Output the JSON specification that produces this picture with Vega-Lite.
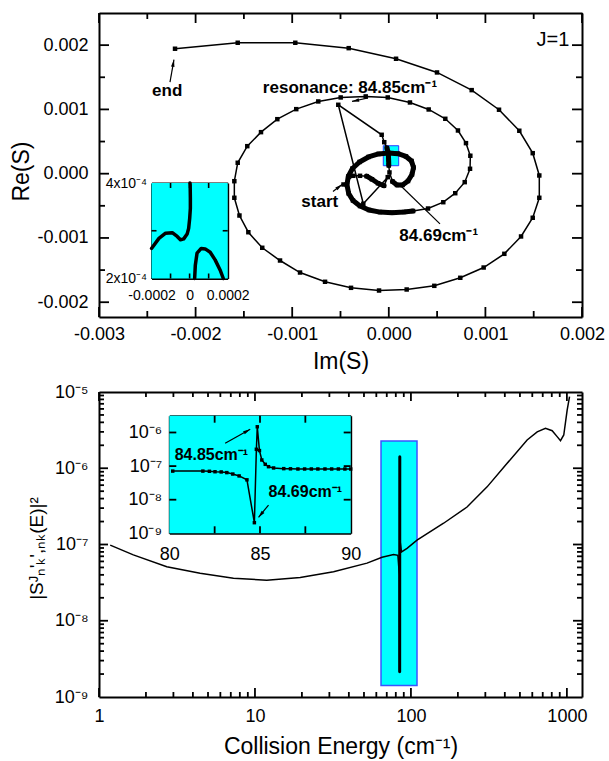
{
"$schema":"https://vega.github.io/schema/vega-lite/v6.json",
"width":609,"height":761,
"autosize":{"type":"none"},
"padding":0,
"background":"white",
"config":{"view":{"stroke":null},"font":"Liberation Sans",
 "axis":{"grid":false,"domainColor":"black","domainWidth":2,"labelColor":"black","titleColor":"black","labelFont":"Liberation Sans","titleFont":"Liberation Sans","labelFontWeight":"normal","titleFontWeight":"normal","labelOverlap":false,"labelFlush":false,"zindex":1,"labelFontSize":18,"titleFontSize":23}},
"datasets":{
 "spiral":[
  {"i":1,"im":-0.000469,"re":-0.000168,"seg":0},
  {"i":2,"im":-0.000368,"re":-0.000033,"seg":0},
  {"i":3,"im":-0.000298,"re":-0.000033,"seg":0},
  {"i":4,"im":-0.000229,"re":-0.000039,"seg":1},
  {"i":5,"im":-0.000174,"re":-0.000087,"seg":1},
  {"i":6,"im":-0.000112,"re":-0.000149,"seg":1},
  {"i":7,"im":-0.000050,"re":-0.000188,"seg":1},
  {"i":8,"im":-0.000011,"re":-0.000054,"seg":0},
  {"i":9,"im":-0.000264,"re":-0.000468,"seg":0},
  {"i":10,"im":-0.000523,"re":0.001072,"seg":0},
  {"i":11,"im":-0.0000735,"re":0.000605,"seg":0},
  {"i":12,"im":-0.000047,"re":0.000490,"seg":0},
  {"i":13,"im":-0.000019,"re":0.000400,"seg":2},
  {"i":14,"im":-0.000005,"re":0.000314,"seg":2},
  {"i":15,"im":-0.000002,"re":0.000221,"seg":2},
  {"i":16,"im":0.0,"re":0.000128,"seg":2},
  {"i":17,"im":0.000007,"re":0.000019,"seg":0},
  {"i":18,"im":0.000038,"re":-0.000121,"seg":3},
  {"i":19,"im":0.000085,"re":-0.000176,"seg":3},
  {"i":20,"im":0.000142,"re":-0.000176,"seg":3},
  {"i":21,"im":0.000199,"re":-0.000114,"seg":3},
  {"i":22,"im":0.000240,"re":-0.000012,"seg":3},
  {"i":23,"im":0.000256,"re":0.000096,"seg":3},
  {"i":24,"im":0.000235,"re":0.000198,"seg":3},
  {"i":25,"im":0.000178,"re":0.000268,"seg":3},
  {"i":26,"im":0.000095,"re":0.000311,"seg":3},
  {"i":27,"im":-0.000003,"re":0.000322,"seg":3},
  {"i":28,"im":-0.000107,"re":0.000307,"seg":3},
  {"i":29,"im":-0.000210,"re":0.000260,"seg":3},
  {"i":30,"im":-0.000303,"re":0.000182,"seg":3},
  {"i":31,"im":-0.000376,"re":0.000081,"seg":3},
  {"i":32,"im":-0.000420,"re":-0.000044,"seg":3},
  {"i":33,"im":-0.000433,"re":-0.000176,"seg":3},
  {"i":34,"im":-0.000415,"re":-0.000308,"seg":3},
  {"i":35,"im":-0.000371,"re":-0.000417,"seg":3},
  {"i":36,"im":-0.000298,"re":-0.000503,"seg":3},
  {"i":37,"im":-0.000205,"re":-0.000565,"seg":3},
  {"i":38,"im":-0.000091,"re":-0.000598,"seg":3},
  {"i":39,"im":0.000033,"re":-0.000607,"seg":3},
  {"i":40,"im":0.000157,"re":-0.000596,"seg":3},
  {"i":41,"im":0.000251,"re":-0.000581,"seg":3},
  {"i":42,"im":0.000406,"re":-0.000542,"seg":0},
  {"i":43,"im":0.000564,"re":-0.000444,"seg":0},
  {"i":44,"im":0.000688,"re":-0.000304,"seg":0},
  {"i":45,"im":0.000786,"re":-0.000132,"seg":0},
  {"i":46,"im":0.000841,"re":0.000076,"seg":0},
  {"i":47,"im":0.000844,"re":0.000279,"seg":0},
  {"i":48,"im":0.000799,"re":0.000475,"seg":0},
  {"i":49,"im":0.000716,"re":0.000672,"seg":0},
  {"i":50,"im":0.000585,"re":0.000854,"seg":0},
  {"i":51,"im":0.000413,"re":0.000999,"seg":0},
  {"i":52,"im":0.000219,"re":0.001108,"seg":0},
  {"i":53,"im":-0.000011,"re":0.001186,"seg":0},
  {"i":54,"im":-0.000239,"re":0.001202,"seg":0},
  {"i":55,"im":-0.000498,"re":0.001186,"seg":0},
  {"i":56,"im":-0.000730,"re":0.001124,"seg":0},
  {"i":57,"im":-0.000958,"re":0.001004,"seg":0},
  {"i":58,"im":-0.001154,"re":0.000848,"seg":0},
  {"i":59,"im":-0.001323,"re":0.000646,"seg":0},
  {"i":60,"im":-0.001465,"re":0.000428,"seg":0},
  {"i":61,"im":-0.001564,"re":0.000170,"seg":0},
  {"i":62,"im":-0.001599,"re":-0.000117,"seg":0},
  {"i":63,"im":-0.001599,"re":-0.000375,"seg":0},
  {"i":64,"im":-0.001546,"re":-0.000651,"seg":0},
  {"i":65,"im":-0.001454,"re":-0.000911,"seg":0},
  {"i":66,"im":-0.001310,"re":-0.001153,"seg":0},
  {"i":67,"im":-0.001126,"re":-0.001351,"seg":0},
  {"i":68,"im":-0.000919,"re":-0.001538,"seg":0},
  {"i":69,"im":-0.000660,"re":-0.001682,"seg":0},
  {"i":70,"im":-0.000391,"re":-0.001776,"seg":0},
  {"i":71,"im":-0.000101,"re":-0.001818,"seg":0},
  {"i":72,"im":0.000185,"re":-0.001802,"seg":0},
  {"i":73,"im":0.000471,"re":-0.001745,"seg":0},
  {"i":74,"im":0.000740,"re":-0.001620,"seg":0},
  {"i":75,"im":0.000982,"re":-0.001460,"seg":0},
  {"i":76,"im":0.001196,"re":-0.001247,"seg":0},
  {"i":77,"im":0.001369,"re":-0.000977,"seg":0},
  {"i":78,"im":0.001490,"re":-0.000686,"seg":0},
  {"i":79,"im":0.001558,"re":-0.000375,"seg":0},
  {"i":80,"im":0.001558,"re":-0.000028,"seg":0},
  {"i":81,"im":0.001490,"re":0.000319,"seg":0},
  {"i":82,"im":0.001351,"re":0.000668,"seg":0},
  {"i":83,"im":0.001141,"re":0.000995,"seg":0},
  {"i":84,"im":0.000858,"re":0.001300,"seg":0},
  {"i":85,"im":0.000499,"re":0.001575,"seg":0},
  {"i":86,"im":0.000075,"re":0.001788,"seg":0},
  {"i":87,"im":-0.000415,"re":0.001953,"seg":0},
  {"i":88,"im":-0.000968,"re":0.002037,"seg":0},
  {"i":89,"im":-0.001564,"re":0.002037,"seg":0},
  {"i":90,"im":-0.002213,"re":0.001944,"seg":0}
 ],
 "zoomTop":[
  {"b":1,"i":1,"im":-0.0002,"re":0.000263},
  {"b":1,"i":2,"im":-0.000161,"re":0.000284},
  {"b":1,"i":3,"im":-0.000126,"re":0.000295},
  {"b":1,"i":4,"im":-0.000091,"re":0.000296},
  {"b":1,"i":5,"im":-0.000065,"re":0.000288},
  {"b":1,"i":6,"im":-0.000048,"re":0.000281},
  {"b":1,"i":7,"im":-0.000031,"re":0.000283},
  {"b":1,"i":8,"im":-0.000013,"re":0.000293},
  {"b":1,"i":9,"im":-0.000005,"re":0.000305},
  {"b":1,"i":10,"im":0.0000005,"re":0.000326},
  {"b":1,"i":11,"im":0.000004,"re":0.000347},
  {"b":1,"i":12,"im":0.000004,"re":0.000368},
  {"b":1,"i":13,"im":0.000003,"re":0.000396},
  {"b":1,"i":14,"im":0.000002,"re":0.0004},
  {"b":2,"i":1,"im":0.0000265,"re":0.0002},
  {"b":2,"i":2,"im":0.000030,"re":0.000228},
  {"b":2,"i":3,"im":0.000039,"re":0.000253},
  {"b":2,"i":4,"im":0.000061,"re":0.000263},
  {"b":2,"i":5,"im":0.000082,"re":0.000262},
  {"b":2,"i":6,"im":0.000108,"re":0.000255},
  {"b":2,"i":7,"im":0.000134,"re":0.000239},
  {"b":2,"i":8,"im":0.000160,"re":0.000218},
  {"b":2,"i":9,"im":0.000177,"re":0.0002}
 ],
 "topLabels":[
  {"t":"end","im":-0.002294,"re":0.001279},
  {"t":"start","im":-0.000715,"re":-0.000433},
  {"t":"resonance: 84.85cm⁻¹","im":-0.000402,"re":0.001334},
  {"t":"84.69cm⁻¹","im":0.000517,"re":-0.000977}
 ],
 "topArrows":[
  {"im":-0.002265,"re":0.001424,"im2":-0.002224,"re2":0.001773},
  {"im":-0.000578,"re":-0.000277,"im2":-0.000484,"re2":-0.000168},
  {"im":-0.000215,"re":0.001178,"im2":-0.000381,"re2":0.001124},
  {"im":0.000530,"re":-0.000780,"im2":0.000126,"re2":-0.000191}
 ],
 "curve":[
  {"E":1.18,"s2":9.8e-8,"spike":0},
  {"E":1.66,"s2":7.3e-8,"spike":0},
  {"E":2.72,"s2":5.1e-8,"spike":0},
  {"E":4.45,"s2":4.2e-8,"spike":0},
  {"E":7.28,"s2":3.6e-8,"spike":0},
  {"E":11.9,"s2":3.4e-8,"spike":0},
  {"E":19.5,"s2":3.7e-8,"spike":0},
  {"E":31.9,"s2":4.4e-8,"spike":0},
  {"E":52.3,"s2":5.7e-8,"spike":0},
  {"E":65.3,"s2":6.8e-8,"spike":0},
  {"E":77.4,"s2":7.4e-8,"spike":0},
  {"E":82.5,"s2":7.2e-8,"spike":0},
  {"E":84.3,"s2":4.0e-8,"spike":0},
  {"E":84.69,"s2":2.15e-9,"spike":1},
  {"E":84.8,"s2":3.2e-7,"spike":1},
  {"E":84.85,"s2":1.42e-6,"spike":1},
  {"E":84.97,"s2":2.9e-7,"spike":0},
  {"E":85.3,"s2":1.1e-7,"spike":0},
  {"E":87,"s2":8.0e-8,"spike":0},
  {"E":94.4,"s2":8.9e-8,"spike":0},
  {"E":109.4,"s2":1.14e-7,"spike":0},
  {"E":162,"s2":1.9e-7,"spike":0},
  {"E":229,"s2":3.1e-7,"spike":0},
  {"E":308,"s2":5.7e-7,"spike":0},
  {"E":414,"s2":1.16e-6,"spike":0},
  {"E":556,"s2":2.35e-6,"spike":0},
  {"E":645,"s2":3.0e-6,"spike":0},
  {"E":729,"s2":3.34e-6,"spike":0},
  {"E":805,"s2":3.11e-6,"spike":0},
  {"E":866,"s2":2.6e-6,"spike":0},
  {"E":910,"s2":2.3e-6,"spike":0},
  {"E":955,"s2":2.73e-6,"spike":0},
  {"E":1004,"s2":5.8e-6,"spike":0},
  {"E":1040,"s2":8.7e-6,"spike":0}
 ],
 "zoomBottom":[
  {"E":80.19,"s2":7.1e-8},
  {"E":81.85,"s2":7.1e-8},
  {"E":82.21,"s2":7.0e-8},
  {"E":82.52,"s2":6.8e-8},
  {"E":82.86,"s2":6.7e-8},
  {"E":83.17,"s2":6.4e-8},
  {"E":83.5,"s2":5.8e-8},
  {"E":83.85,"s2":5.1e-8},
  {"E":84.28,"s2":3.9e-8},
  {"E":84.69,"s2":2.07e-9},
  {"E":84.8,"s2":3.16e-7},
  {"E":84.85,"s2":1.48e-6},
  {"E":84.97,"s2":2.9e-7},
  {"E":85.1,"s2":1.52e-7},
  {"E":85.29,"s2":1.13e-7},
  {"E":85.47,"s2":9.6e-8},
  {"E":85.75,"s2":8.8e-8},
  {"E":86.31,"s2":8.4e-8},
  {"E":86.68,"s2":8.3e-8},
  {"E":87.09,"s2":8.2e-8},
  {"E":87.46,"s2":8.2e-8},
  {"E":87.83,"s2":8.2e-8},
  {"E":88.19,"s2":8.2e-8},
  {"E":88.58,"s2":8.2e-8},
  {"E":88.95,"s2":8.2e-8},
  {"E":89.32,"s2":8.2e-8},
  {"E":89.68,"s2":8.2e-8},
  {"E":90.0,"s2":8.2e-8}
 ],
 "bottomLabels":[
  {"t":"84.85cm⁻¹","E":82.32,"s2":2.18e-7},
  {"t":"84.69cm⁻¹","E":87.5,"s2":1.69e-8}
 ],
 "bottomArrows":[
  {"E":83.08,"s2":4.77e-7,"E2":84.46,"s2end":1.245e-6},
  {"E":85.47,"s2":6.95e-9,"E2":84.92,"s2end":2.99e-9}
 ],
 "tmx":[{"v":-0.003,"m":1},{"v":-0.0025,"m":0},{"v":-0.002,"m":1},{"v":-0.0015,"m":0},{"v":-0.001,"m":1},{"v":-0.0005,"m":0},{"v":0,"m":1},{"v":0.0005,"m":0},{"v":0.001,"m":1},{"v":0.0015,"m":0},{"v":0.002,"m":1}],
 "tmy":[{"v":-0.002,"m":1},{"v":-0.0015,"m":0},{"v":-0.001,"m":1},{"v":-0.0005,"m":0},{"v":0,"m":1},{"v":0.0005,"m":0},{"v":0.001,"m":1},{"v":0.0015,"m":0},{"v":0.002,"m":1}],
 "bmx":[{"v":1,"m":1},{"v":2,"m":0},{"v":3,"m":0},{"v":4,"m":0},{"v":5,"m":0},{"v":6,"m":0},{"v":7,"m":0},{"v":8,"m":0},{"v":9,"m":0},
  {"v":10,"m":1},{"v":20,"m":0},{"v":30,"m":0},{"v":40,"m":0},{"v":50,"m":0},{"v":60,"m":0},{"v":70,"m":0},{"v":80,"m":0},{"v":90,"m":0},
  {"v":100,"m":1},{"v":200,"m":0},{"v":300,"m":0},{"v":400,"m":0},{"v":500,"m":0},{"v":600,"m":0},{"v":700,"m":0},{"v":800,"m":0},{"v":900,"m":0},{"v":1000,"m":1}],
 "bmy":[{"v":2e-9,"m":0},{"v":3e-9,"m":0},{"v":4e-9,"m":0},{"v":5e-9,"m":0},{"v":6e-9,"m":0},{"v":7e-9,"m":0},{"v":8e-9,"m":0},{"v":9e-9,"m":0},
  {"v":1e-8,"m":1},{"v":2e-8,"m":0},{"v":3e-8,"m":0},{"v":4e-8,"m":0},{"v":5e-8,"m":0},{"v":6e-8,"m":0},{"v":7e-8,"m":0},{"v":8e-8,"m":0},{"v":9e-8,"m":0},
  {"v":1e-7,"m":1},{"v":2e-7,"m":0},{"v":3e-7,"m":0},{"v":4e-7,"m":0},{"v":5e-7,"m":0},{"v":6e-7,"m":0},{"v":7e-7,"m":0},{"v":8e-7,"m":0},{"v":9e-7,"m":0},
  {"v":1e-6,"m":1},{"v":2e-6,"m":0},{"v":3e-6,"m":0},{"v":4e-6,"m":0},{"v":5e-6,"m":0},{"v":6e-6,"m":0},{"v":7e-6,"m":0},{"v":8e-6,"m":0},{"v":9e-6,"m":0}],
 "tix":[{"v":-0.0001},{"v":0},{"v":0.0001}],
 "tiy":[{"v":0.0003}],
 "bix":[{"v":82.5},{"v":85},{"v":87.5}],
 "biy":[{"v":1e-8},{"v":1e-7},{"v":1e-6}]
},
"layer":[
 {
  "layer":[
   {"data":{"values":[{}]},"mark":{"type":"rect","fill":"#00ffff","stroke":"#2a3cff","strokeWidth":1},
    "encoding":{"x":{"datum":-0.000057,"type":"quantitative","scale":{"domain":[-0.003,0.002],"range":[99,582],"zero":false,"nice":false},"axis":null},"x2":{"datum":0.0001025},
     "y":{"datum":0.000124,"type":"quantitative","scale":{"domain":[-0.00223,0.0025],"range":[317,13],"zero":false,"nice":false},"axis":null},"y2":{"datum":0.000435}}},
   {"data":{"name":"spiral"},"mark":{"type":"line","color":"black","strokeWidth":1.5},
    "encoding":{
     "x":{"field":"im","type":"quantitative","scale":{"domain":[-0.003,0.002],"range":[99,582],"zero":false,"nice":false},
      "axis":{"orient":"bottom","offset":-444,"values":[-0.003,-0.002,-0.001,0,0.001,0.002],"ticks":false,"domain":false,
       "labelExpr":"replace(format(datum.value,'.3f'),'−','-')",
       "labelPadding":8,"title":"Im(S)","titleY":51,"titleBaseline":"alphabetic"}},
     "y":{"field":"re","type":"quantitative","scale":{"domain":[-0.00223,0.0025],"range":[317,13],"zero":false,"nice":false},
      "axis":{"orient":"left","offset":-99,"values":[-0.002,-0.001,0,0.001,0.002],"ticks":false,"domain":false,
       "labelExpr":"replace(format(datum.value,'.3f'),'−','-')",
       "labelPadding":11,"title":"Re(S)","titleX":-71,"titleY":171,"titleBaseline":"alphabetic","titleAngle":270,"titleAlign":"center"}},
     "order":{"field":"i"}}},
   {"data":{"name":"spiral"},"transform":[{"filter":"datum.seg > 0"}],"mark":{"type":"line","color":"black","strokeWidth":5,"strokeCap":"round","strokeJoin":"round"},
    "encoding":{"x":{"field":"im","type":"quantitative","scale":{"domain":[-0.003,0.002],"range":[99,582],"zero":false,"nice":false},
      "axis":{"orient":"top","offset":-317,"values":[0],"labels":false,"ticks":false,"title":null}},
     "y":{"field":"re","type":"quantitative","scale":{"domain":[-0.00223,0.0025],"range":[317,13],"zero":false,"nice":false},
      "axis":{"orient":"right","offset":-510,"values":[0],"labels":false,"ticks":false,"title":null}},
     "detail":{"field":"seg"},"order":{"field":"i"}}},
   {"data":{"name":"spiral"},"mark":{"type":"point","shape":"square","filled":true,"color":"black","size":20,"opacity":1},
    "encoding":{
     "x":{"field":"im","type":"quantitative","scale":{"domain":[-0.003,0.002],"range":[99,582],"zero":false,"nice":false},
      "axis":{"orient":"bottom","offset":-748,"values":[0],"labels":false,"ticks":false,"title":null}},
     "y":{"field":"re","type":"quantitative","scale":{"domain":[-0.00223,0.0025],"range":[317,13],"zero":false,"nice":false},
      "axis":{"orient":"left","offset":-582,"values":[0],"labels":false,"ticks":false,"title":null}}}},
   {"data":{"name":"tmx"},"transform":[{"filter":"datum.m == 1"}],"mark":{"type":"rule","color":"black","strokeWidth":1.8,"y2Offset":-10},
    "encoding":{"x":{"field":"v","type":"quantitative","scale":{"domain":[-0.003,0.002],"range":[99,582],"zero":false,"nice":false},"axis":null},
     "y":{"datum":-0.00223,"type":"quantitative","scale":{"domain":[-0.00223,0.0025],"range":[317,13],"zero":false,"nice":false},"axis":null},"y2":{"datum":-0.00223}}},
   {"data":{"name":"tmx"},"transform":[{"filter":"datum.m == 0"}],"mark":{"type":"rule","color":"black","strokeWidth":1.8,"y2Offset":-6},
    "encoding":{"x":{"field":"v","type":"quantitative","scale":{"domain":[-0.003,0.002],"range":[99,582],"zero":false,"nice":false},"axis":null},
     "y":{"datum":-0.00223,"type":"quantitative","scale":{"domain":[-0.00223,0.0025],"range":[317,13],"zero":false,"nice":false},"axis":null},"y2":{"datum":-0.00223}}},
   {"data":{"name":"tmx"},"transform":[{"filter":"datum.m == 1"}],"mark":{"type":"rule","color":"black","strokeWidth":1.8,"y2Offset":10},
    "encoding":{"x":{"field":"v","type":"quantitative","scale":{"domain":[-0.003,0.002],"range":[99,582],"zero":false,"nice":false},"axis":null},
     "y":{"datum":0.0025,"type":"quantitative","scale":{"domain":[-0.00223,0.0025],"range":[317,13],"zero":false,"nice":false},"axis":null},"y2":{"datum":0.0025}}},
   {"data":{"name":"tmx"},"transform":[{"filter":"datum.m == 0"}],"mark":{"type":"rule","color":"black","strokeWidth":1.8,"y2Offset":6},
    "encoding":{"x":{"field":"v","type":"quantitative","scale":{"domain":[-0.003,0.002],"range":[99,582],"zero":false,"nice":false},"axis":null},
     "y":{"datum":0.0025,"type":"quantitative","scale":{"domain":[-0.00223,0.0025],"range":[317,13],"zero":false,"nice":false},"axis":null},"y2":{"datum":0.0025}}},
   {"data":{"name":"tmy"},"transform":[{"filter":"datum.m == 1"}],"mark":{"type":"rule","color":"black","strokeWidth":1.8,"x2Offset":10},
    "encoding":{"y":{"field":"v","type":"quantitative","scale":{"domain":[-0.00223,0.0025],"range":[317,13],"zero":false,"nice":false},"axis":null},
     "x":{"datum":-0.003,"type":"quantitative","scale":{"domain":[-0.003,0.002],"range":[99,582],"zero":false,"nice":false},"axis":null},"x2":{"datum":-0.003}}},
   {"data":{"name":"tmy"},"transform":[{"filter":"datum.m == 0"}],"mark":{"type":"rule","color":"black","strokeWidth":1.8,"x2Offset":6},
    "encoding":{"y":{"field":"v","type":"quantitative","scale":{"domain":[-0.00223,0.0025],"range":[317,13],"zero":false,"nice":false},"axis":null},
     "x":{"datum":-0.003,"type":"quantitative","scale":{"domain":[-0.003,0.002],"range":[99,582],"zero":false,"nice":false},"axis":null},"x2":{"datum":-0.003}}},
   {"data":{"name":"tmy"},"transform":[{"filter":"datum.m == 1"}],"mark":{"type":"rule","color":"black","strokeWidth":1.8,"x2Offset":-10},
    "encoding":{"y":{"field":"v","type":"quantitative","scale":{"domain":[-0.00223,0.0025],"range":[317,13],"zero":false,"nice":false},"axis":null},
     "x":{"datum":0.002,"type":"quantitative","scale":{"domain":[-0.003,0.002],"range":[99,582],"zero":false,"nice":false},"axis":null},"x2":{"datum":0.002}}},
   {"data":{"name":"tmy"},"transform":[{"filter":"datum.m == 0"}],"mark":{"type":"rule","color":"black","strokeWidth":1.8,"x2Offset":-6},
    "encoding":{"y":{"field":"v","type":"quantitative","scale":{"domain":[-0.00223,0.0025],"range":[317,13],"zero":false,"nice":false},"axis":null},
     "x":{"datum":0.002,"type":"quantitative","scale":{"domain":[-0.003,0.002],"range":[99,582],"zero":false,"nice":false},"axis":null},"x2":{"datum":0.002}}},
   {"data":{"name":"topArrows"},"mark":{"type":"rule","color":"black","strokeWidth":1.2},
    "encoding":{"x":{"field":"im","type":"quantitative","scale":{"domain":[-0.003,0.002],"range":[99,582],"zero":false,"nice":false},"axis":null},
     "y":{"field":"re","type":"quantitative","scale":{"domain":[-0.00223,0.0025],"range":[317,13],"zero":false,"nice":false},"axis":null},
     "x2":{"field":"im2"},"y2":{"field":"re2"}}},
   {"data":{"values":[{}]},"mark":{"type":"point","shape":"M0,0L0.4,1.6L-0.4,1.6Z","size":80,"filled":true,"color":"black","opacity":1,"angle":10},
    "encoding":{"x":{"datum":-0.002224,"type":"quantitative","scale":{"domain":[-0.003,0.002],"range":[99,582],"zero":false,"nice":false},"axis":null},
     "y":{"datum":0.001773,"type":"quantitative","scale":{"domain":[-0.00223,0.0025],"range":[317,13],"zero":false,"nice":false},"axis":null}}},
   {"data":{"values":[{}]},"mark":{"type":"point","shape":"M0,0L0.4,1.6L-0.4,1.6Z","size":80,"filled":true,"color":"black","opacity":1,"angle":52},
    "encoding":{"x":{"datum":-0.000484,"type":"quantitative","scale":{"domain":[-0.003,0.002],"range":[99,582],"zero":false,"nice":false},"axis":null},
     "y":{"datum":-0.000168,"type":"quantitative","scale":{"domain":[-0.00223,0.0025],"range":[317,13],"zero":false,"nice":false},"axis":null}}},
   {"data":{"values":[{}]},"mark":{"type":"point","shape":"M0,0L0.4,1.6L-0.4,1.6Z","size":80,"filled":true,"color":"black","opacity":1,"angle":258},
    "encoding":{"x":{"datum":-0.000381,"type":"quantitative","scale":{"domain":[-0.003,0.002],"range":[99,582],"zero":false,"nice":false},"axis":null},
     "y":{"datum":0.001124,"type":"quantitative","scale":{"domain":[-0.00223,0.0025],"range":[317,13],"zero":false,"nice":false},"axis":null}}},
   {"data":{"name":"topLabels"},"mark":{"type":"text","font":"Liberation Sans","fontWeight":"bold","fontSize":17,"align":"center","baseline":"middle","color":"black"},
    "encoding":{"x":{"field":"im","type":"quantitative","scale":{"domain":[-0.003,0.002],"range":[99,582],"zero":false,"nice":false},"axis":null},
     "y":{"field":"re","type":"quantitative","scale":{"domain":[-0.00223,0.0025],"range":[317,13],"zero":false,"nice":false},"axis":null},
     "text":{"field":"t"}}},
   {"data":{"values":[{}]},"mark":{"type":"text","text":"J=1","font":"Liberation Sans","fontSize":20,"align":"center","baseline":"middle","color":"black"},
    "encoding":{"x":{"datum":0.0017,"type":"quantitative","scale":{"domain":[-0.003,0.002],"range":[99,582],"zero":false,"nice":false},"axis":null},
     "y":{"datum":0.002073,"type":"quantitative","scale":{"domain":[-0.00223,0.0025],"range":[317,13],"zero":false,"nice":false},"axis":null}}}
  ],
  "resolve":{"axis":{"x":"independent","y":"independent"}}
 },
 {
  "layer":[
   {"data":{"values":[{}]},"mark":{"type":"rect","fill":"#00ffff"},
    "encoding":{"x":{"datum":-0.0002,"type":"quantitative","scale":{"domain":[-0.0002,0.0002],"range":[151.5,227.7],"zero":false,"nice":false},
      "axis":{"orient":"top","offset":-278.5,"values":[0],"labels":false,"ticks":false,"title":null}},
     "x2":{"datum":0.0002},
     "y":{"datum":0.0002,"type":"quantitative","scale":{"domain":[0.0002,0.0004],"range":[278.5,183],"zero":false,"nice":false},
      "axis":{"orient":"right","offset":-457.5,"values":[0.0003],"labels":false,"ticks":false,"title":null}},
     "y2":{"datum":0.0004}}},
   {"data":{"name":"zoomTop"},"transform":[{"filter":"datum.b == 1"}],"mark":{"type":"line","color":"black","strokeWidth":3.5,"strokeCap":"round","strokeJoin":"round"},
    "encoding":{"x":{"field":"im","type":"quantitative","scale":{"domain":[-0.0002,0.0002],"range":[151.5,227.7],"zero":false,"nice":false},
      "axis":{"orient":"bottom","offset":-482.5,"values":[-0.0002,0,0.0002],"ticks":false,"domain":false,
       "labelExpr":"abs(datum.value)<1e-9 ? '0' : (datum.value<0 ? '-0.0002' : '0.0002')",
       "labelPadding":10,"labelFontSize":14,"title":null}},
     "y":{"field":"re","type":"quantitative","scale":{"domain":[0.0002,0.0004],"range":[278.5,183],"zero":false,"nice":false},
      "axis":{"orient":"left","offset":-151.5,"values":[0.0002,0.0004],"ticks":false,"domain":false,
       "labelExpr":"datum.value > 0.0003 ? '4x10⁻⁴' : '2x10⁻⁴'",
       "labelPadding":5,"labelFontSize":14,"title":null}},
     "order":{"field":"i"}}},
   {"data":{"name":"zoomTop"},"transform":[{"filter":"datum.b == 2"}],"mark":{"type":"line","color":"black","strokeWidth":3.5,"strokeCap":"round","strokeJoin":"round"},
    "encoding":{"x":{"field":"im","type":"quantitative","scale":{"domain":[-0.0002,0.0002],"range":[151.5,227.7],"zero":false,"nice":false},
      "axis":{"orient":"bottom","offset":-578,"values":[0],"labels":false,"ticks":false,"title":null}},
     "y":{"field":"re","type":"quantitative","scale":{"domain":[0.0002,0.0004],"range":[278.5,183],"zero":false,"nice":false},
      "axis":{"orient":"left","offset":-227.7,"values":[0.0003],"labels":false,"ticks":false,"title":null}},
     "order":{"field":"i"}}},
   {"data":{"name":"tix"},"mark":{"type":"rule","color":"black","strokeWidth":1.6,"y2Offset":-5},
    "encoding":{"x":{"field":"v","type":"quantitative","scale":{"domain":[-0.0002,0.0002],"range":[151.5,227.7],"zero":false,"nice":false},"axis":null},
     "y":{"datum":0.0002,"type":"quantitative","scale":{"domain":[0.0002,0.0004],"range":[278.5,183],"zero":false,"nice":false},"axis":null},"y2":{"datum":0.0002}}},
   {"data":{"name":"tix"},"mark":{"type":"rule","color":"black","strokeWidth":1.6,"y2Offset":5},
    "encoding":{"x":{"field":"v","type":"quantitative","scale":{"domain":[-0.0002,0.0002],"range":[151.5,227.7],"zero":false,"nice":false},"axis":null},
     "y":{"datum":0.0004,"type":"quantitative","scale":{"domain":[0.0002,0.0004],"range":[278.5,183],"zero":false,"nice":false},"axis":null},"y2":{"datum":0.0004}}},
   {"data":{"name":"tiy"},"mark":{"type":"rule","color":"black","strokeWidth":1.6,"x2Offset":5},
    "encoding":{"y":{"field":"v","type":"quantitative","scale":{"domain":[0.0002,0.0004],"range":[278.5,183],"zero":false,"nice":false},"axis":null},
     "x":{"datum":-0.0002,"type":"quantitative","scale":{"domain":[-0.0002,0.0002],"range":[151.5,227.7],"zero":false,"nice":false},"axis":null},"x2":{"datum":-0.0002}}},
   {"data":{"name":"tiy"},"mark":{"type":"rule","color":"black","strokeWidth":1.6,"x2Offset":-5},
    "encoding":{"y":{"field":"v","type":"quantitative","scale":{"domain":[0.0002,0.0004],"range":[278.5,183],"zero":false,"nice":false},"axis":null},
     "x":{"datum":0.0002,"type":"quantitative","scale":{"domain":[-0.0002,0.0002],"range":[151.5,227.7],"zero":false,"nice":false},"axis":null},"x2":{"datum":0.0002}}}
  ],
  "resolve":{"axis":{"x":"independent","y":"independent"}}
 },
 {
  "layer":[
   {"data":{"values":[{}]},"mark":{"type":"rect","fill":"#00ffff","stroke":"#3a55ff","strokeWidth":1.5},
    "encoding":{"x":{"datum":64.3,"type":"quantitative","scale":{"type":"log","domain":[1,1250],"range":[99,582],"nice":false},
      "axis":{"orient":"top","offset":-697,"values":[10],"labels":false,"ticks":false,"title":null}},
     "x2":{"datum":109.4},
     "y":{"datum":1.41e-9,"type":"quantitative","scale":{"type":"log","domain":[1e-9,1e-5],"range":[697,392],"nice":false},
      "axis":{"orient":"right","offset":-510,"values":[1e-7],"labels":false,"ticks":false,"title":null}},
     "y2":{"datum":2.28e-6}}},
   {"data":{"name":"curve"},"mark":{"type":"line","color":"black","strokeWidth":1.5},
    "encoding":{
     "x":{"field":"E","type":"quantitative","scale":{"type":"log","domain":[1,1250],"range":[99,582],"nice":false},
      "axis":{"orient":"bottom","offset":-64,"values":[1,10,100,1000],"ticks":false,"domain":false,
       "labelExpr":"format(datum.value,'d')",
       "labelPadding":10,"title":"Collision Energy (cm⁻¹)","titleY":56,"titleBaseline":"alphabetic"}},
     "y":{"field":"s2","type":"quantitative","scale":{"type":"log","domain":[1e-9,1e-5],"range":[697,392],"nice":false},
      "axis":{"orient":"left","offset":-99,"values":[1e-9,1e-8,1e-7,1e-6,1e-5],"ticks":false,"domain":false,
       "labelExpr":"'10' + (round(log(datum.value)/LN10)==-5 ? '⁻⁵' : (round(log(datum.value)/LN10)==-6 ? '⁻⁶' : (round(log(datum.value)/LN10)==-7 ? '⁻⁷' : (round(log(datum.value)/LN10)==-8 ? '⁻⁸' : '⁻⁹'))))",
       "labelPadding":11,"title":"|Sᴶₙ'ₖ',ₙₖ(E)|²","titleFontSize":19,"titleX":-57,"titleY":548,"titleBaseline":"alphabetic","titleAngle":270,"titleAlign":"center"}}}},
   {"data":{"name":"curve"},"transform":[{"filter":"datum.spike > 0"}],"mark":{"type":"line","color":"black","strokeWidth":3,"strokeCap":"round"},
    "encoding":{
     "x":{"field":"E","type":"quantitative","scale":{"type":"log","domain":[1,1250],"range":[99,582],"nice":false},
      "axis":{"orient":"bottom","offset":-369,"values":[10],"labels":false,"ticks":false,"title":null}},
     "y":{"field":"s2","type":"quantitative","scale":{"type":"log","domain":[1e-9,1e-5],"range":[697,392],"nice":false},
      "axis":{"orient":"left","offset":-582,"values":[1e-7],"labels":false,"ticks":false,"title":null}}}},
   {"data":{"name":"bmx"},"transform":[{"filter":"datum.m == 1"}],"mark":{"type":"rule","color":"black","strokeWidth":1.8,"y2Offset":-9},
    "encoding":{"x":{"field":"v","type":"quantitative","scale":{"type":"log","domain":[1,1250],"range":[99,582],"nice":false},"axis":null},
     "y":{"datum":1e-9,"type":"quantitative","scale":{"type":"log","domain":[1e-9,1e-5],"range":[697,392],"nice":false},"axis":null},"y2":{"datum":1e-9}}},
   {"data":{"name":"bmx"},"transform":[{"filter":"datum.m == 0"}],"mark":{"type":"rule","color":"black","strokeWidth":1.8,"y2Offset":-5},
    "encoding":{"x":{"field":"v","type":"quantitative","scale":{"type":"log","domain":[1,1250],"range":[99,582],"nice":false},"axis":null},
     "y":{"datum":1e-9,"type":"quantitative","scale":{"type":"log","domain":[1e-9,1e-5],"range":[697,392],"nice":false},"axis":null},"y2":{"datum":1e-9}}},
   {"data":{"name":"bmx"},"transform":[{"filter":"datum.m == 1"}],"mark":{"type":"rule","color":"black","strokeWidth":1.8,"y2Offset":9},
    "encoding":{"x":{"field":"v","type":"quantitative","scale":{"type":"log","domain":[1,1250],"range":[99,582],"nice":false},"axis":null},
     "y":{"datum":1e-5,"type":"quantitative","scale":{"type":"log","domain":[1e-9,1e-5],"range":[697,392],"nice":false},"axis":null},"y2":{"datum":1e-5}}},
   {"data":{"name":"bmx"},"transform":[{"filter":"datum.m == 0"}],"mark":{"type":"rule","color":"black","strokeWidth":1.8,"y2Offset":5},
    "encoding":{"x":{"field":"v","type":"quantitative","scale":{"type":"log","domain":[1,1250],"range":[99,582],"nice":false},"axis":null},
     "y":{"datum":1e-5,"type":"quantitative","scale":{"type":"log","domain":[1e-9,1e-5],"range":[697,392],"nice":false},"axis":null},"y2":{"datum":1e-5}}},
   {"data":{"name":"bmy"},"transform":[{"filter":"datum.m == 1"}],"mark":{"type":"rule","color":"black","strokeWidth":1.8,"x2Offset":9},
    "encoding":{"y":{"field":"v","type":"quantitative","scale":{"type":"log","domain":[1e-9,1e-5],"range":[697,392],"nice":false},"axis":null},
     "x":{"datum":1,"type":"quantitative","scale":{"type":"log","domain":[1,1250],"range":[99,582],"nice":false},"axis":null},"x2":{"datum":1}}},
   {"data":{"name":"bmy"},"transform":[{"filter":"datum.m == 0"}],"mark":{"type":"rule","color":"black","strokeWidth":1.8,"x2Offset":5},
    "encoding":{"y":{"field":"v","type":"quantitative","scale":{"type":"log","domain":[1e-9,1e-5],"range":[697,392],"nice":false},"axis":null},
     "x":{"datum":1,"type":"quantitative","scale":{"type":"log","domain":[1,1250],"range":[99,582],"nice":false},"axis":null},"x2":{"datum":1}}},
   {"data":{"name":"bmy"},"transform":[{"filter":"datum.m == 1"}],"mark":{"type":"rule","color":"black","strokeWidth":1.8,"x2Offset":-9},
    "encoding":{"y":{"field":"v","type":"quantitative","scale":{"type":"log","domain":[1e-9,1e-5],"range":[697,392],"nice":false},"axis":null},
     "x":{"datum":1250,"type":"quantitative","scale":{"type":"log","domain":[1,1250],"range":[99,582],"nice":false},"axis":null},"x2":{"datum":1250}}},
   {"data":{"name":"bmy"},"transform":[{"filter":"datum.m == 0"}],"mark":{"type":"rule","color":"black","strokeWidth":1.8,"x2Offset":-5},
    "encoding":{"y":{"field":"v","type":"quantitative","scale":{"type":"log","domain":[1e-9,1e-5],"range":[697,392],"nice":false},"axis":null},
     "x":{"datum":1250,"type":"quantitative","scale":{"type":"log","domain":[1,1250],"range":[99,582],"nice":false},"axis":null},"x2":{"datum":1250}}}
  ],
  "resolve":{"axis":{"x":"independent","y":"independent"}}
 },
 {
  "layer":[
   {"data":{"values":[{}]},"mark":{"type":"rect","fill":"#00ffff"},
    "encoding":{"x":{"datum":80,"type":"quantitative","scale":{"domain":[80,90],"range":[169.3,350.7],"zero":false,"nice":false},
      "axis":{"orient":"top","offset":-533.3,"values":[85],"labels":false,"ticks":false,"title":null}},
     "x2":{"datum":90},
     "y":{"datum":1e-9,"type":"quantitative","scale":{"type":"log","domain":[1e-9,3.16e-6],"range":[533.3,415.7],"nice":false},
      "axis":{"orient":"right","offset":-439.7,"values":[1e-7],"labels":false,"ticks":false,"title":null}},
     "y2":{"datum":3.16e-6}}},
   {"data":{"name":"zoomBottom"},"mark":{"type":"line","color":"black","strokeWidth":1.5,"point":{"shape":"square","filled":true,"color":"black","size":12}},
    "encoding":{
     "x":{"field":"E","type":"quantitative","scale":{"domain":[80,90],"range":[169.3,350.7],"zero":false,"nice":false},
      "axis":{"orient":"bottom","offset":-227.7,"values":[80,85,90],"ticks":false,"domain":false,"labelExpr":"format(datum.value,'d')","labelPadding":11.7,"title":null}},
     "y":{"field":"s2","type":"quantitative","scale":{"type":"log","domain":[1e-9,3.16e-6],"range":[533.3,415.7],"nice":false},
      "axis":{"orient":"left","offset":-169.3,"values":[1e-9,1e-8,1e-7,1e-6],"ticks":false,"domain":false,
       "labelExpr":"'10' + (round(log(datum.value)/LN10)==-6 ? '⁻⁶' : (round(log(datum.value)/LN10)==-7 ? '⁻⁷' : (round(log(datum.value)/LN10)==-8 ? '⁻⁸' : '⁻⁹')))",
       "labelPadding":7.6,"title":null}}}},
   {"data":{"name":"bottomArrows"},"mark":{"type":"rule","color":"black","strokeWidth":1.2},
    "encoding":{"x":{"field":"E","type":"quantitative","scale":{"domain":[80,90],"range":[169.3,350.7],"zero":false,"nice":false},
      "axis":{"orient":"bottom","offset":-345.3,"values":[85],"labels":false,"ticks":false,"title":null}},
     "y":{"field":"s2","type":"quantitative","scale":{"type":"log","domain":[1e-9,3.16e-6],"range":[533.3,415.7],"nice":false},
      "axis":{"orient":"left","offset":-350.7,"values":[1e-7],"labels":false,"ticks":false,"title":null}},
     "x2":{"field":"E2"},"y2":{"field":"s2end"}}},
   {"data":{"name":"bix"},"mark":{"type":"rule","color":"black","strokeWidth":1.8,"y2Offset":-7},
    "encoding":{"x":{"field":"v","type":"quantitative","scale":{"domain":[80,90],"range":[169.3,350.7],"zero":false,"nice":false},"axis":null},
     "y":{"datum":1e-9,"type":"quantitative","scale":{"type":"log","domain":[1e-9,3.16e-6],"range":[533.3,415.7],"nice":false},"axis":null},"y2":{"datum":1e-9}}},
   {"data":{"name":"bix"},"mark":{"type":"rule","color":"black","strokeWidth":1.8,"y2Offset":7},
    "encoding":{"x":{"field":"v","type":"quantitative","scale":{"domain":[80,90],"range":[169.3,350.7],"zero":false,"nice":false},"axis":null},
     "y":{"datum":3.16e-6,"type":"quantitative","scale":{"type":"log","domain":[1e-9,3.16e-6],"range":[533.3,415.7],"nice":false},"axis":null},"y2":{"datum":3.16e-6}}},
   {"data":{"name":"biy"},"mark":{"type":"rule","color":"black","strokeWidth":1.8,"x2Offset":7},
    "encoding":{"y":{"field":"v","type":"quantitative","scale":{"type":"log","domain":[1e-9,3.16e-6],"range":[533.3,415.7],"nice":false},"axis":null},
     "x":{"datum":80,"type":"quantitative","scale":{"domain":[80,90],"range":[169.3,350.7],"zero":false,"nice":false},"axis":null},"x2":{"datum":80}}},
   {"data":{"name":"biy"},"mark":{"type":"rule","color":"black","strokeWidth":1.8,"x2Offset":-7},
    "encoding":{"y":{"field":"v","type":"quantitative","scale":{"type":"log","domain":[1e-9,3.16e-6],"range":[533.3,415.7],"nice":false},"axis":null},
     "x":{"datum":90,"type":"quantitative","scale":{"domain":[80,90],"range":[169.3,350.7],"zero":false,"nice":false},"axis":null},"x2":{"datum":90}}},
   {"data":{"values":[{}]},"mark":{"type":"point","shape":"M0,0L0.4,1.6L-0.4,1.6Z","size":80,"filled":true,"color":"black","opacity":1,"angle":61},
    "encoding":{"x":{"datum":84.46,"type":"quantitative","scale":{"domain":[80,90],"range":[169.3,350.7],"zero":false,"nice":false},"axis":null},
     "y":{"datum":1.245e-6,"type":"quantitative","scale":{"type":"log","domain":[1e-9,3.16e-6],"range":[533.3,415.7],"nice":false},"axis":null}}},
   {"data":{"values":[{}]},"mark":{"type":"point","shape":"M0,0L0.4,1.6L-0.4,1.6Z","size":80,"filled":true,"color":"black","opacity":1,"angle":219},
    "encoding":{"x":{"datum":84.92,"type":"quantitative","scale":{"domain":[80,90],"range":[169.3,350.7],"zero":false,"nice":false},"axis":null},
     "y":{"datum":2.99e-9,"type":"quantitative","scale":{"type":"log","domain":[1e-9,3.16e-6],"range":[533.3,415.7],"nice":false},"axis":null}}},
   {"data":{"name":"bottomLabels"},"mark":{"type":"text","font":"Liberation Sans","fontWeight":"bold","fontSize":16,"align":"center","baseline":"middle","color":"black"},
    "encoding":{"x":{"field":"E","type":"quantitative","scale":{"domain":[80,90],"range":[169.3,350.7],"zero":false,"nice":false},"axis":null},
     "y":{"field":"s2","type":"quantitative","scale":{"type":"log","domain":[1e-9,3.16e-6],"range":[533.3,415.7],"nice":false},"axis":null},
     "text":{"field":"t"}}}
  ],
  "resolve":{"axis":{"x":"independent","y":"independent"}}
 }
],
"resolve":{"scale":{"x":"independent","y":"independent"}}
}
